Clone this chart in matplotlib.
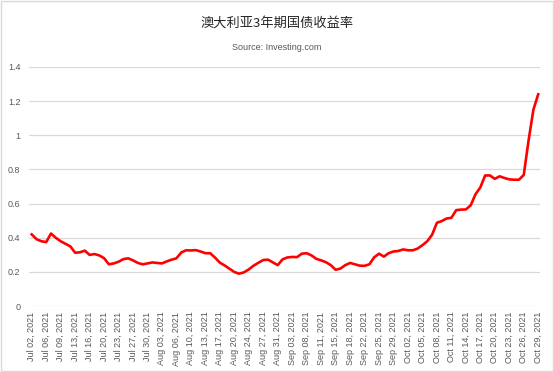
import matplotlib
matplotlib.use('Agg')
import matplotlib.pyplot as plt
from matplotlib.patches import Rectangle

plt.rcParams['font.family'] = ['Liberation Sans', 'DejaVu Sans']

# 数据: 澳大利亚3年期国债收益率 (%)
yields = [
    0.42, 0.392, 0.38, 0.375, 0.425, 0.40, 0.38, 0.365, 0.35, 0.313,
    0.315, 0.325, 0.30, 0.305, 0.297, 0.281, 0.245, 0.25, 0.26, 0.275,
    0.28, 0.268, 0.253, 0.245, 0.25, 0.256, 0.253, 0.25, 0.262, 0.272,
    0.28, 0.314, 0.327, 0.326, 0.328, 0.32, 0.31, 0.31, 0.284, 0.255,
    0.238, 0.219, 0.20, 0.19, 0.198, 0.215, 0.237, 0.254, 0.27, 0.272,
    0.256, 0.24, 0.274, 0.285, 0.288, 0.287, 0.307, 0.31, 0.297, 0.277,
    0.268, 0.257, 0.24, 0.213, 0.22, 0.24, 0.253, 0.245, 0.237, 0.236,
    0.245, 0.286, 0.307, 0.29, 0.31, 0.32, 0.323, 0.332, 0.327, 0.327,
    0.337, 0.357, 0.38, 0.418, 0.488, 0.498, 0.513, 0.517, 0.562, 0.565,
    0.566, 0.59, 0.655, 0.695, 0.765, 0.765, 0.745, 0.76, 0.75, 0.742,
    0.74, 0.74, 0.768, 0.97, 1.15, 1.24,
]

date_labels = [
    'Jul 02, 2021', 'Jul 06, 2021', 'Jul 09, 2021', 'Jul 13, 2021',
    'Jul 16, 2021', 'Jul 20, 2021', 'Jul 23, 2021', 'Jul 27, 2021',
    'Jul 30, 2021', 'Aug 03, 2021', 'Aug 06, 2021', 'Aug 10, 2021',
    'Aug 13, 2021', 'Aug 17, 2021', 'Aug 20, 2021', 'Aug 24, 2021',
    'Aug 27, 2021', 'Aug 31, 2021', 'Sep 03, 2021', 'Sep 08, 2021',
    'Sep 11, 2021', 'Sep 15, 2021', 'Sep 18, 2021', 'Sep 22, 2021',
    'Sep 25, 2021', 'Sep 29, 2021', 'Oct 02, 2021', 'Oct 05, 2021',
    'Oct 08, 2021', 'Oct 11, 2021', 'Oct 14, 2021', 'Oct 17, 2021',
    'Oct 20, 2021', 'Oct 23, 2021', 'Oct 26, 2021', 'Oct 29, 2021',
]
label_step = 3

y_ticks = [0, 0.2, 0.4, 0.6, 0.8, 1.0, 1.2, 1.4]
y_tick_labels = ['0', '0.2', '0.4', '0.6', '0.8', '1', '1.2', '1.4']

fig = plt.figure(figsize=(5.54, 3.72), dpi=100)
ax = fig.add_axes([0.052, 0.177, 0.923, 0.643])

x = list(range(len(yields)))
ax.plot(x, yields, color='#FF0000', linewidth=1.9, solid_joinstyle='round', zorder=3)

ax.set_xlim(-0.6, len(yields) - 1 + 0.4)
ax.set_ylim(0, 1.4)
ax.set_yticks(y_ticks)
ax.set_yticklabels(y_tick_labels)
ax.set_xticks(x[::label_step])
ax.set_xticklabels(date_labels, rotation=90)

ax.grid(axis='y', color='#d9d9d9', linewidth=0.9)
ax.set_axisbelow(True)
for s in ax.spines.values():
    s.set_visible(False)
ax.tick_params(axis='both', length=0, labelsize=6.5, colors='#595959')
ax.tick_params(axis='x', pad=4)
ax.tick_params(axis='y', pad=6)

fig.text(0.5, 0.938, '澳大利亚3年期国债收益率', ha='center', va='center',
         fontsize=9.5, color='#262626', family=['Noto Sans CJK SC', 'DejaVu Sans'])
fig.text(0.5, 0.873, 'Source: Investing.com', ha='center', va='center',
         fontsize=6.5, color='#595959')

# 外边框
fig.patches.append(Rectangle((0.001, 0.002), 0.997, 0.995, transform=fig.transFigure,
                             fill=False, edgecolor='#d9d9d9', linewidth=1))

fig.savefig('out.png', dpi=100)
